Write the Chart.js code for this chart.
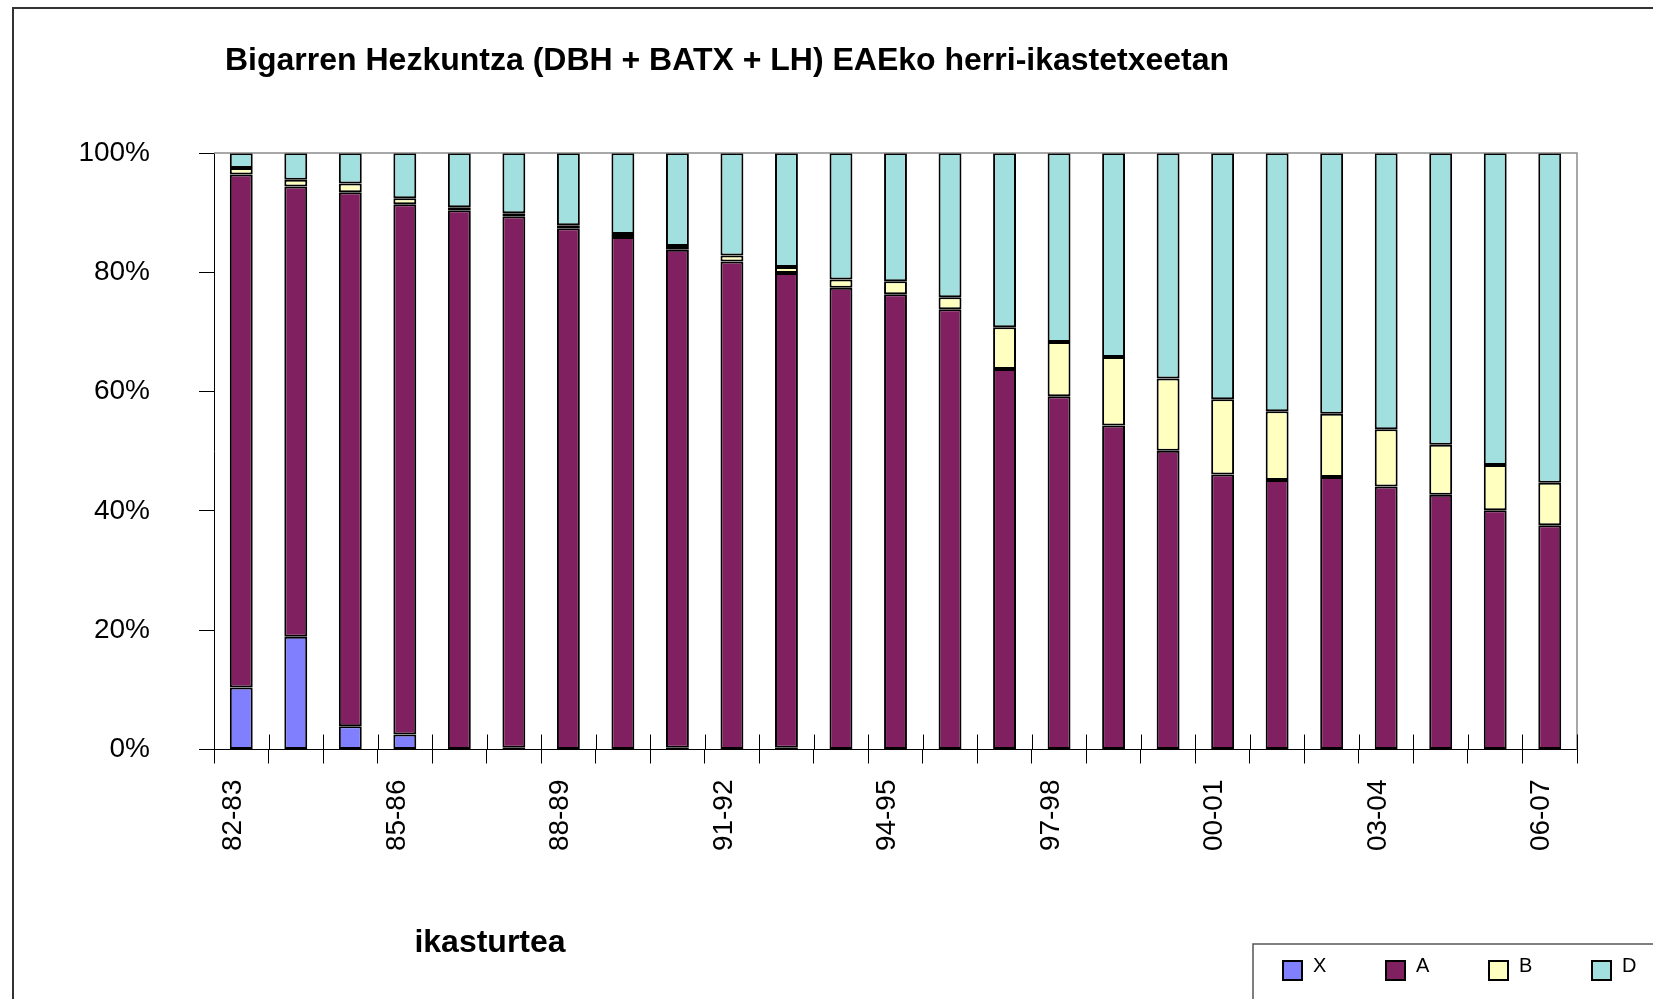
<!DOCTYPE html>
<html>
<head>
<meta charset="utf-8">
<title>Bigarren Hezkuntza</title>
<script src="https://cdn.jsdelivr.net/npm/chart.js@4.4.1/dist/chart.umd.min.js"></script>
<style>
  html, body { margin: 0; padding: 0; background: #fff; overflow: hidden; }
  canvas { display: block; }
</style>
</head>
<body>
<canvas id="chart" width="1653" height="999"></canvas>
<script>
const chartTitle = 'Bigarren Hezkuntza (DBH + BATX + LH) EAEko herri-ikastetxeetan';
const axisTitle = 'ikasturtea';

const years = ['82-83', '83-84', '84-85', '85-86', '86-87', '87-88', '88-89', '89-90', '90-91',
    '91-92', '92-93', '93-94', '94-95', '95-96', '96-97', '97-98', '98-99', '99-00', '00-01',
    '01-02', '02-03', '03-04', '04-05', '05-06', '06-07'];
const shownYears = ['82-83', '85-86', '88-89', '91-92', '94-95', '97-98', '00-01', '03-04', '06-07'];

// percent of pupils per model (X, A, B, D)
const modelX = [10.4, 18.9, 3.9, 2.5, 0, 0.3, 0, 0, 0.3, 0, 0.3, 0, 0, 0, 0, 0, 0, 0, 0, 0, 0, 0, 0, 0, 0];
const modelA = [86.0, 75.5, 89.5, 88.9, 90.4, 89.1, 87.4, 85.9, 83.5, 81.8, 79.6, 77.4, 76.3, 73.8,
    63.8, 59.2, 54.3, 50.1, 46.1, 45.2, 45.7, 44.1, 42.7, 40.1, 37.6];
const modelB = [1.1, 1.1, 1.5, 1.0, 0.5, 0.5, 0.5, 0.5, 0.6, 1.0, 1.0, 1.4, 2.2, 2.0,
    7.0, 9.1, 11.5, 12.1, 12.6, 11.5, 10.6, 9.6, 8.4, 7.6, 7.1];
const modelD = [2.5, 4.5, 5.1, 7.6, 9.1, 10.1, 12.1, 13.6, 15.6, 17.2, 19.1, 21.2, 21.5, 24.2,
    29.2, 31.7, 34.2, 37.8, 41.3, 43.3, 43.7, 46.3, 48.9, 52.3, 55.3];

const seriesNames = ['X', 'A', 'B', 'D'];
const seriesColors = ['#8080ff', '#802060', '#ffffc0', '#a2e0e0'];
const yTicks = [0, 20, 40, 60, 80, 100];

const FONT = '"Liberation Sans", Arial, sans-serif';

const decor = {
    id: 'decor',
    beforeDraw(chart) {
        const ctx = chart.ctx;
        ctx.save();
        ctx.fillStyle = '#fff';
        ctx.fillRect(0, 0, chart.width, chart.height);
        ctx.restore();
    },
    afterDraw(chart) {
        const { ctx, chartArea: a } = chart;
        const x = chart.scales.x;
        ctx.save();

        // grey frame of the plot area (top and right)
        ctx.strokeStyle = '#8c8c8c';
        ctx.lineWidth = 1.5;
        ctx.beginPath();
        ctx.moveTo(a.left, a.top);
        ctx.lineTo(a.right, a.top);
        ctx.lineTo(a.right, a.bottom);
        ctx.stroke();

        // the x tick marks cross the axis: inner half
        ctx.strokeStyle = '#000';
        ctx.lineWidth = 1;
        ctx.beginPath();
        for (let i = 0; i <= years.length; i++) {
            const px = Math.round(x.getPixelForValue(i - 0.5)) + 0.5;
            ctx.moveTo(px, a.bottom - 15);
            ctx.lineTo(px, a.bottom);
        }
        ctx.stroke();

        // outer chart frame
        ctx.strokeStyle = '#333';
        ctx.lineWidth = 2;
        ctx.beginPath();
        ctx.moveTo(chart.width, 8);
        ctx.lineTo(13, 8);
        ctx.lineTo(13, chart.height);
        ctx.stroke();

        // titles
        ctx.fillStyle = '#000';
        ctx.font = 'bold 32px ' + FONT;
        ctx.textBaseline = 'alphabetic';
        ctx.textAlign = 'left';
        ctx.fillText(chartTitle, 225, 70);
        ctx.textAlign = 'center';
        ctx.fillText(axisTitle, 490, 952);

        // legend box
        ctx.strokeStyle = '#555';
        ctx.lineWidth = 1.5;
        ctx.beginPath();
        ctx.moveTo(chart.width, 944);
        ctx.lineTo(1253, 944);
        ctx.lineTo(1253, chart.height);
        ctx.stroke();

        ctx.font = '20px ' + FONT;
        ctx.textAlign = 'left';
        chart.data.datasets.forEach((ds, i) => {
            const lx = 1283 + i * 103;
            ctx.fillStyle = ds.backgroundColor;
            ctx.fillRect(lx, 961, 19, 19);
            ctx.strokeStyle = '#000';
            ctx.lineWidth = 2;
            ctx.strokeRect(lx, 961, 19, 19);
            ctx.fillStyle = '#000';
            ctx.fillText(ds.label, lx + 30, 972);
        });
        ctx.restore();
    },
};

const datasets = [modelX, modelA, modelB, modelD].map((values, i) => ({
    label: seriesNames[i],
    data: values,
    backgroundColor: seriesColors[i],
    borderColor: '#000',
    borderWidth: 2,
    borderSkipped: false,
    barPercentage: 0.42,
    categoryPercentage: 1,
}));

new Chart(document.getElementById('chart'), {
    type: 'bar',
    data: { labels: years, datasets },
    options: {
        responsive: false,
        animation: false,
        devicePixelRatio: 1,
        layout: { padding: { top: 153, right: 76, bottom: 0, left: 0 } },
        plugins: {
            legend: { display: false },
            title: { display: false },
            tooltip: { enabled: false },
        },
        scales: {
            x: {
                stacked: true,
                grid: { drawOnChartArea: false, tickLength: 14, color: '#000' },
                border: { color: '#000', width: 1 },
                ticks: {
                    autoSkip: false,
                    minRotation: 90,
                    maxRotation: 90,
                    padding: 16,
                    labelOffset: -8,
                    color: '#000',
                    font: { family: FONT, size: 28 },
                    callback: (value, index) => (shownYears.includes(years[index]) ? years[index] : ''),
                },
                afterFit: (scale) => { scale.height = 249.5; },
            },
            y: {
                stacked: true,
                min: yTicks[0],
                max: yTicks[yTicks.length - 1],
                grid: { drawOnChartArea: false, tickLength: 15, color: '#000' },
                border: { color: '#000', width: 1 },
                afterBuildTicks: (scale) => { scale.ticks = yTicks.map((v) => ({ value: v })); },
                ticks: {
                    padding: 49,
                    color: '#000',
                    font: { family: FONT, size: 28 },
                    callback: (value) => value + '%',
                },
                afterFit: (scale) => { scale.width = 214; },
            },
        },
    },
    plugins: [decor],
});
</script>
</body>
</html>
